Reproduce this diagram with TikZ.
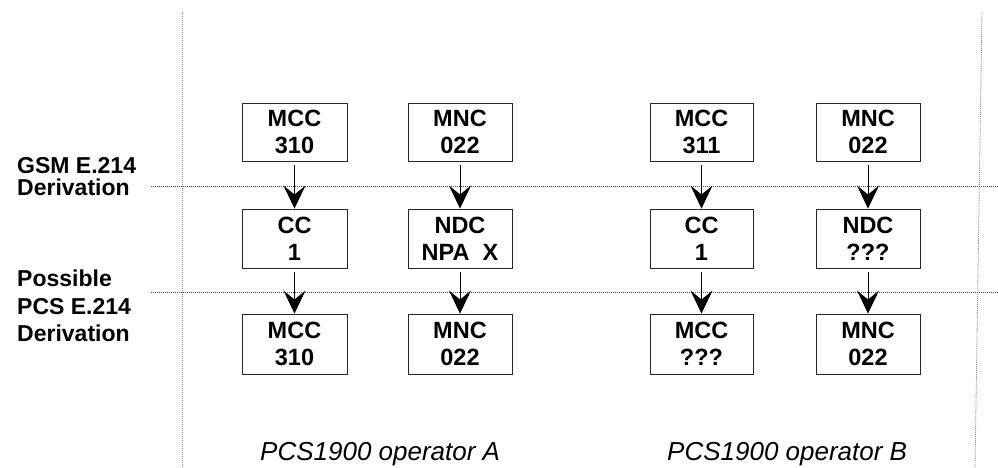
\documentclass[tikz,border=0pt]{standalone}
\usepackage{fontspec}
\setmainfont{Liberation Sans}
\usetikzlibrary{arrows.meta}
\begin{document}
\begin{tikzpicture}[x=1pt,y=-1pt,
  box/.style={draw=black!85,line width=0.9pt,inner sep=0pt,align=center,
    font=\fontsize{23.5}{27}\selectfont\bfseries},
  flow/.style={line width=0.8pt,shorten <=4pt,
    -{Stealth[length=23pt,width=22pt,inset=9pt]}},
  sep/.style={black!70,line width=0.6pt,dash pattern=on 1pt off 1pt},
  vsep/.style={black!45,line width=0.8pt,dash pattern=on 1pt off 1pt},
  lbl/.style={inner sep=0pt,anchor=north west,align=left},
  op/.style={inner sep=0pt,anchor=base west,font=\fontsize{26}{30}\selectfont\itshape}]
\useasboundingbox (0,0) rectangle (998,467);
% separators
\coordinate (v1t) at (182,12); \coordinate (v1b) at (182,467);
\coordinate (v2t) at (982,12); \coordinate (v2b) at (975,467);
\coordinate (h1l) at (151,186); \coordinate (h1r) at (998,186);
\coordinate (h2l) at (151,292); \coordinate (h2r) at (998,292);
\draw[vsep] (v1t) -- (v1b);
\draw[vsep] (v2t) -- (v2b);
\draw[sep] (h1l) -- (h1r);
\draw[sep] (h2l) -- (h2r);
% row 1
\node[box,minimum width=105pt,minimum height=58pt] (a1) at (294.5,132) {MCC\\310};
\node[box,minimum width=104pt,minimum height=58pt] (b1) at (460,132) {MNC\\022};
\node[box,minimum width=103pt,minimum height=58pt] (c1) at (701.5,132) {MCC\\311};
\node[box,minimum width=104pt,minimum height=58pt] (d1) at (868,132) {MNC\\022};
% row 2
\node[box,minimum width=105pt,minimum height=59pt] (a2) at (294.5,238.5) {CC\\1};
\node[box,minimum width=104pt,minimum height=59pt] (b2) at (460,238.5) {NDC\\NPA\ \ X};
\node[box,minimum width=103pt,minimum height=59pt] (c2) at (701.5,238.5) {CC\\1};
\node[box,minimum width=104pt,minimum height=59pt] (d2) at (868,238.5) {NDC\\???};
% row 3
\node[box,minimum width=105pt,minimum height=60pt] (a3) at (294.5,344) {MCC\\310};
\node[box,minimum width=104pt,minimum height=60pt] (b3) at (460,344) {MNC\\022};
\node[box,minimum width=103pt,minimum height=60pt] (c3) at (701.5,344) {MCC\\???};
\node[box,minimum width=104pt,minimum height=60pt] (d3) at (868,344) {MNC\\022};
% arrows
\foreach \c in {a,b,c,d}{
  \draw[flow] (\c1.south) -- (\c2.north);
  \draw[flow] (\c2.south) -- (\c3.north);
}
% side labels
\node[lbl,font=\fontsize{23}{22}\selectfont\bfseries] (gsm) at (17,157) {GSM E.214\\Derivation};
\node[lbl,font=\fontsize{23}{27.5}\selectfont\bfseries] (pcs) at (17,270) {Possible\\PCS E.214\\Derivation};
% operator labels
\node[op] (opa) at (260,460) {PCS1900 operator A};
\node[op] (opb) at (667,460) {PCS1900 operator B};
\end{tikzpicture}
\end{document}
